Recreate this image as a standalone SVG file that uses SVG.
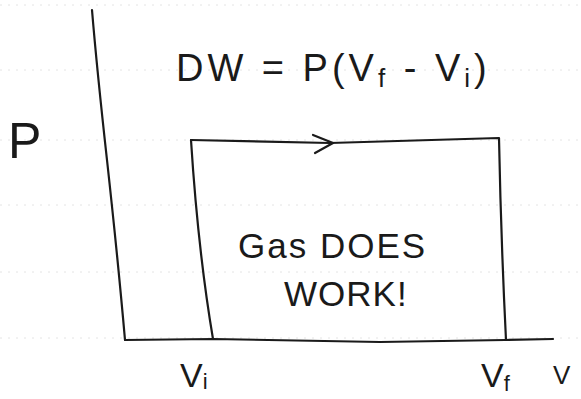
<svg xmlns="http://www.w3.org/2000/svg" width="581" height="399" viewBox="0 0 581 399">
<style>
.ln{fill:none;stroke:#1a1a1a;stroke-width:2.2;stroke-linecap:round;stroke-linejoin:round}
.rule{stroke:#e4e4e4;stroke-width:1;stroke-dasharray:2 6}
.t{font-family:"Liberation Sans",Arial,sans-serif;fill:#1a1a1a}
</style>
<rect width="581" height="399" fill="#fff"/>
<g id="ruling">
<line class="rule" x1="0" y1="5" x2="581" y2="5"/>
<line class="rule" x1="0" y1="70" x2="581" y2="70"/>
<line class="rule" x1="0" y1="140" x2="581" y2="140"/>
<line class="rule" x1="0" y1="205" x2="581" y2="205"/>
<line class="rule" x1="0" y1="272" x2="581" y2="272"/>
<line class="rule" x1="0" y1="338" x2="581" y2="338"/>
</g>
<g id="axes">
<path class="ln" d="M92,10 Q97,70 107,160 Q118,260 125,340"/>
<path class="ln" d="M125,340 L213,339 L380,342 L505,340 L553,339"/>
</g>
<g id="process">
<path class="ln" d="M191,140 L330,143 L499,138 Q501,240 506,340"/>
<path class="ln" d="M191,140 Q198,250 213,339"/>
<path class="ln" d="M313,135 L333,143 L315,153"/>
</g>
<g id="labels">
<text class="t" x="176" y="81" font-size="38" letter-spacing="4">DW = P(V<tspan font-size="26" dy="6">f</tspan><tspan dy="-6"> - V</tspan><tspan font-size="26" dy="6">i</tspan><tspan dy="-6">)</tspan></text>
<text class="t" x="8" y="158" font-size="50">P</text>
<text class="t" x="238" y="258" font-size="35" letter-spacing="2">Gas DOES</text>
<text class="t" x="284" y="306" font-size="35" letter-spacing="1">WORK!</text>
<text class="t" x="180" y="387" font-size="34">V<tspan font-size="22" dy="2">i</tspan></text>
<text class="t" x="481" y="387" font-size="34">V<tspan font-size="22" dy="4">f</tspan></text>
<text class="t" x="553" y="384" font-size="26">V</text>
</g>
</svg>
